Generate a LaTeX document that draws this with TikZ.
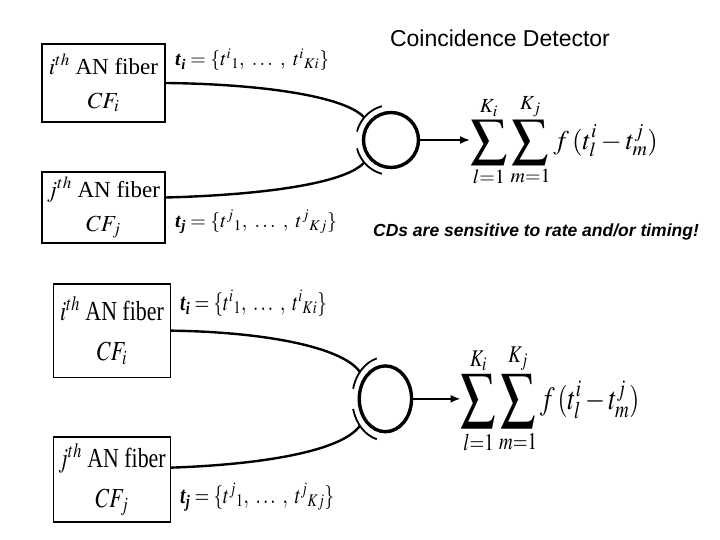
\documentclass[tikz,border=0pt]{standalone}
\usepackage{amsmath}
\usepackage{mathptmx}
\usepackage{fontspec}
\setmainfont{Liberation Serif}
\newfontfamily\cdsans{Liberation Sans}
\usetikzlibrary{arrows.meta}

\newcommand\cdsum{\mathop{\vcenter{\hbox{\scalebox{1.35}{$\displaystyle\sum$}}}}\limits}

\tikzset{
  fiber/.style={draw,line width=1.4pt,minimum width=123pt,align=center,
    inner sep=0pt,font=\fontsize{23}{34}\selectfont},
  spikes/.style={anchor=west,inner sep=0pt,font=\fontsize{20}{24}\selectfont},
  axon/.style={line width=2.4pt},
  cd/.style={circle,draw,line width=3.4pt,minimum size=55pt,inner sep=0pt},
  syn/.style={line width=1.8pt},
  sumf/.style={anchor=west,inner sep=0pt,font=\fontsize{27}{32}\selectfont}
}

\begin{document}
\begin{tikzpicture}[x=1pt,y=1pt,>={Latex[length=10pt,width=8pt]}]
  \useasboundingbox (0,0) rectangle (720,-540);

  % Titel und Bemerkung
  \node[font=\cdsans\fontsize{23}{26}\selectfont] (title) at (500,-38) {Coincidence Detector};
  \node[font=\cdsans\bfseries\itshape\fontsize{17.5}{20}\selectfont] (note) at (536,-232)
    {CDs are sensitive to rate and/or timing!};

  % zwei gleiche Bloecke, unten gestreckt
  \foreach \blk/\ox/\oy/\sx/\sy in {top/42/-44/1/1, bot/53.5/-284/0.951/1.196}{
  \begin{scope}[shift={(\ox,\oy)},xscale=\sx,yscale=\sy,transform shape]
    \node[fiber,minimum height=78pt] (\blk-fi) at (61.5,-39)
      {$i^{th}$ AN fiber\\ $CF_i$};
    \node[fiber,minimum height=71pt] (\blk-fj) at (61.5,-163.5)
      {$j^{th}$ AN fiber\\ $CF_j$};
    \node[spikes] (\blk-ti) at (133,-16)
      {\textbf{\textit{t}}$_{\textbf{\textit{i}}} = \{t^{i}{}_{1},\ \ldots\ ,\ t^{i}{}_{Ki}\}$};
    \node[spikes] (\blk-tj) at (133,-178)
      {\textbf{\textit{t}}$_{\textbf{\textit{j}}} = \{t^{j}{}_{1},\ \ldots\ ,\ t^{j}{}_{Kj}\}$};

    \node[cd] (\blk-cd) at (349,-96) {};
    \coordinate (\blk-up) at (322.2,-73.5);
    \coordinate (\blk-lo) at (322.2,-118.5);

    % Synapsen
    \draw[syn] (\blk-cd.center) ++(105:35) arc[start angle=105,end angle=166,radius=35];
    \draw[syn] (\blk-cd.center) ++(194:35) arc[start angle=194,end angle=255,radius=35];

    % Fasern
    \draw[axon] (\blk-fi.east) .. controls (218,-40) and (303,-52) .. (\blk-up);
    \draw[axon] ([yshift=10pt]\blk-fj.east) .. controls (218,-151) and (303,-140) .. (\blk-lo);

    \node[sumf] (\blk-sum) at (428,-96)
      {$\displaystyle\cdsum_{l=1}^{K_i}\cdsum_{m=1}^{K_j} f\,(t^i_l - t^j_m)$};
    \draw[->,line width=1.8pt] (\blk-cd.east) -- (\blk-sum.west);
  \end{scope}
  }
\end{tikzpicture}
\end{document}
